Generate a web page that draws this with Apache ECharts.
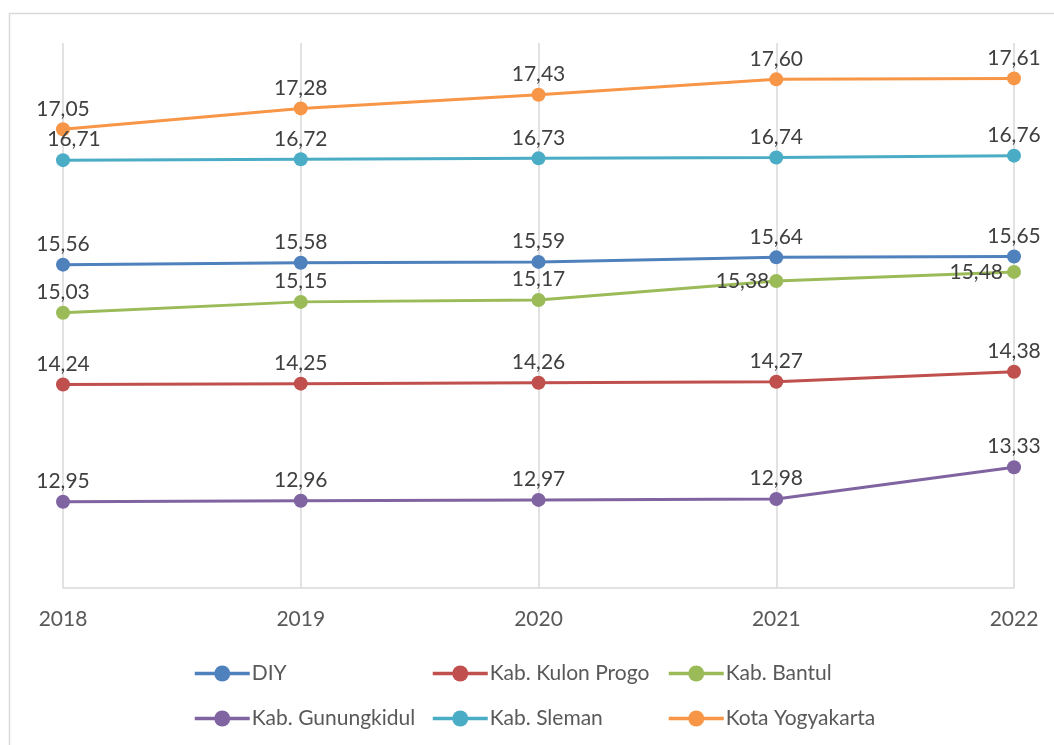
<!DOCTYPE html>
<html lang="id">
<head>
    <meta charset="UTF-8">
    <script src="https://cdn.jsdelivr.net/npm/echarts@6/dist/echarts.min.js"></script>
    <title>Rata-rata lama sekolah</title>
</head>
<body>
    <style>
        html, body, #main {
            margin: 0;
            width: 1054px;
            height: 745px;
            background: #fff;
        }
    </style>
    <div id="main"></div>
    <script>
        var years = ['2018', '2019', '2020', '2021', '2022'];
        var diy = [15.56, 15.58, 15.59, 15.64, 15.65];
        var kulonProgo = [14.24, 14.25, 14.26, 14.27, 14.38];
        var bantul = [15.03, 15.15, 15.17, 15.38, 15.48];
        var gunungkidul = [12.95, 12.96, 12.97, 12.98, 13.33];
        var sleman = [16.71, 16.72, 16.73, 16.74, 16.76];
        var kotaYogya = [17.05, 17.28, 17.43, 17.60, 17.61];

        var font = 'Lato, "Open Sans", sans-serif';

        function fmt(p) {
            return p.value.toFixed(2).replace('.', ',');
        }

        function makeSeries(name, values, color, labelFor) {
            return {
                name: name,
                type: 'line',
                data: values.map(function (v, i) {
                    var item = { value: v };
                    if (labelFor) item.label = labelFor(i);
                    return item;
                }),
                symbol: 'circle',
                symbolSize: 14,
                itemStyle: { color: color },
                lineStyle: { color: color, width: 3 },
                label: {
                    show: true,
                    position: 'top',
                    distance: 3,
                    formatter: fmt,
                    color: '#404040',
                    fontFamily: font,
                    fontSize: 21
                },
                z: 2
            };
        }

        var chart = echarts.init(document.getElementById('main'));

        var legendBase = {
            orient: 'vertical',
            itemGap: 24,
            itemWidth: 55,
            itemHeight: 20,
            lineStyle: { width: 3.5 },
            textStyle: { color: '#595959', fontFamily: font, fontSize: 21, padding: [0, 0, 0, -3] },
            top: 658
        };

        chart.setOption({
            animation: false,
            graphic: [{
                type: 'rect',
                shape: { x: 9.5, y: 13.5, width: 1200, height: 900 },
                style: { fill: 'none', stroke: '#d9d9d9', lineWidth: 1.5 },
                silent: true
            }],
            grid: { left: 63, right: 40, top: 43, bottom: 157 },
            legend: [
                Object.assign({}, legendBase, { left: 188, data: ['DIY', 'Kab. Gunungkidul'] }),
                Object.assign({}, legendBase, { left: 426, data: ['Kab. Kulon Progo', 'Kab. Sleman'] }),
                Object.assign({}, legendBase, { left: 662, data: ['Kab. Bantul', 'Kota Yogyakarta'] })
            ],
            xAxis: {
                type: 'category',
                data: years,
                boundaryGap: false,
                axisLine: { lineStyle: { color: '#d9d9d9', width: 1.5 } },
                axisTick: { show: false },
                splitLine: { show: true, lineStyle: { color: '#d9d9d9', width: 1.5 } },
                axisLabel: { color: '#595959', fontFamily: font, fontSize: 21, margin: 21 }
            },
            yAxis: {
                type: 'value',
                min: 12,
                max: 18,
                interval: 1,
                axisLine: { show: false },
                axisTick: { show: false },
                axisLabel: { show: false },
                splitLine: { show: false }
            },
            series: [
                makeSeries('DIY', diy, '#4f81bd'),
                makeSeries('Kab. Kulon Progo', kulonProgo, '#c0504d'),
                makeSeries('Kab. Bantul', bantul, '#9bbb59', function (i) {
                    if (i === 3) return { position: 'left', distance: 0 };
                    if (i === 4) return { position: 'left', distance: 4 };
                    return undefined;
                }),
                makeSeries('Kab. Gunungkidul', gunungkidul, '#8064a2'),
                makeSeries('Kab. Sleman', sleman, '#4bacc6', function (i) {
                    if (i === 0) return { offset: [11, 0] };
                    return undefined;
                }),
                makeSeries('Kota Yogyakarta', kotaYogya, '#f79646')
            ]
        });
    </script>
</body>
</html>
